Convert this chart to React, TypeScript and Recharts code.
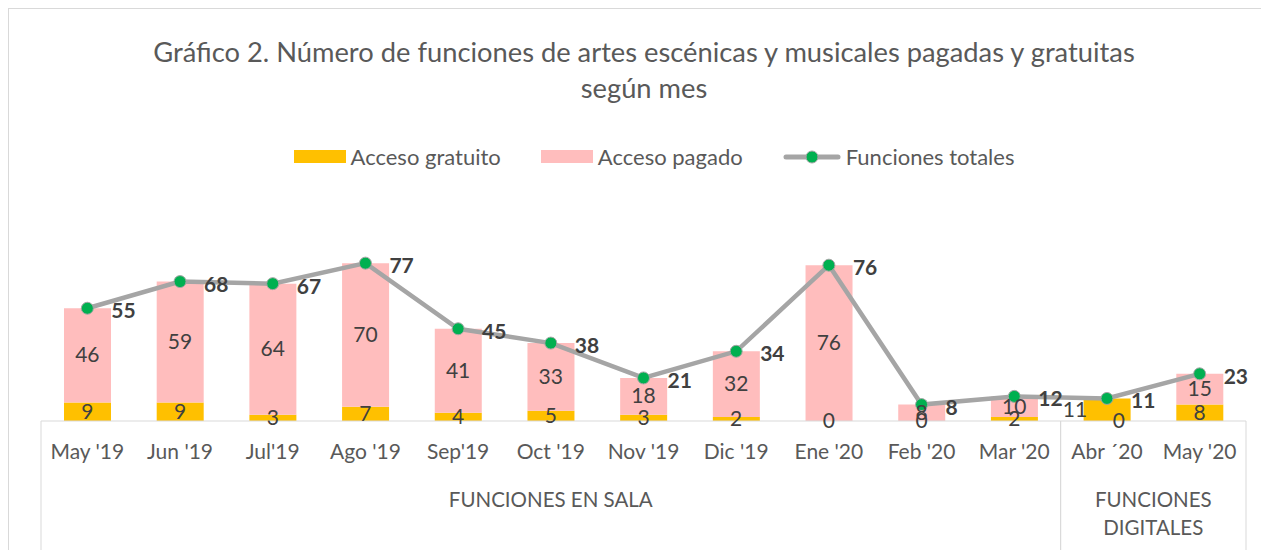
import React from "react";
import {
  ComposedChart,
  Bar,
  Line,
  XAxis,
  YAxis,
} from "recharts";

const months = [
  "May '19", "Jun '19", "Jul'19", "Ago '19", "Sep'19", "Oct '19", "Nov '19",
  "Dic '19", "Ene '20", "Feb '20", "Mar '20", "Abr ´20", "May '20",
];
const groups = [
  "FUNCIONES EN SALA", "FUNCIONES EN SALA", "FUNCIONES EN SALA", "FUNCIONES EN SALA",
  "FUNCIONES EN SALA", "FUNCIONES EN SALA", "FUNCIONES EN SALA", "FUNCIONES EN SALA",
  "FUNCIONES EN SALA", "FUNCIONES EN SALA", "FUNCIONES EN SALA",
  "FUNCIONES DIGITALES", "FUNCIONES DIGITALES",
];
const gratuito = [9, 9, 3, 7, 4, 5, 3, 2, 0, 0, 2, 11, 8];
const pagado = [46, 59, 64, 70, 41, 33, 18, 32, 76, 8, 10, 0, 15];
const totales = [55, 68, 67, 77, 45, 38, 21, 34, 76, 8, 12, 11, 23];

const TITLE = [
  "Gráfico 2. Número de funciones de artes escénicas y musicales pagadas y gratuitas",
  "según mes",
];

const FONT = "Lato, 'Noto Sans', sans-serif";
const W = 1260;
const H = 541;
const M = { top: 207, right: 23, bottom: 0, left: 32 };
const AXIS_Y = 412;
const BAND = (W - M.left - M.right) / months.length;

const data = months.map((m, i) => ({
  month: m,
  gratuito: gratuito[i],
  pagado: pagado[i],
  total: totales[i],
  gratuitoMid: gratuito[i] / 2,
  pagadoMid: gratuito[i] + pagado[i] / 2,
}));

const renderTick = (props: any) => {
  const { x, y, payload } = props;
  const i = payload.index;
  const g = groups[i];
  const first = i === 0 || groups[i - 1] !== g;
  const last = i === groups.length - 1 || groups[i + 1] !== g;
  let count = 0;
  if (first) {
    for (let j = i; j < groups.length && groups[j] === g; j++) count++;
  }
  const words = count < 3 ? g.split(" ") : [g];
  const cx = x - BAND / 2 + (count * BAND) / 2;
  return (
    <g>
      <text x={x} y={y + 38} textAnchor="middle" fill="#595959" fontSize={21} fontFamily={FONT}>
        {payload.value}
      </text>
      {first && (
        <line x1={x - BAND / 2} x2={x - BAND / 2} y1={y} y2={y + 140} stroke="#d9d9d9" />
      )}
      {last && (
        <line x1={x + BAND / 2} x2={x + BAND / 2} y1={y} y2={y + 140} stroke="#d9d9d9" />
      )}
      {first &&
        words.map((w, k) => (
          <text
            key={k}
            x={cx}
            y={y + 86 + k * 28}
            textAnchor="middle"
            fill="#595959"
            fontSize={20.5}
            fontFamily={FONT}
          >
            {w}
          </text>
        ))}
    </g>
  );
};

// an empty top segment sitting on a filled one gets pushed down to the axis
const makeSegLabel = (key: "gratuito" | "pagado") => (props: any) => {
  const { x, y, index } = props;
  const d = data[index];
  let lx = x;
  let ly = y + 7;
  if (key === "pagado" && d.pagado === 0 && d.gratuito > 0) {
    lx = x + 12;
    ly = AXIS_Y + 7;
  }
  if (key === "gratuito" && d.pagado === 0 && d.gratuito > 0) {
    lx = x - 32;
  }
  return (
    <text
      key={`${key}-${index}`}
      x={lx}
      y={ly}
      textAnchor="middle"
      fill="#404040"
      fontSize={21}
      fontFamily={FONT}
    >
      {d[key]}
    </text>
  );
};

const renderTotalLabel = (props: any) => {
  const { x, y, value, index } = props;
  return (
    <text key={`t-${index}`} x={x + 24} y={y + 10} fill="#404040" fontSize={21} fontWeight="bold" fontFamily={FONT}>
      {value}
    </text>
  );
};

const legendItems = [
  { name: "Acceso gratuito", color: "#ffc000", type: "bar" },
  { name: "Acceso pagado", color: "#ffbdbd", type: "bar" },
  { name: "Funciones totales", color: "#a5a5a5", type: "line" },
];

export default function App() {
  return (
    <div
      style={{
        position: "relative",
        width: 1260,
        height: 541,
        borderTop: "1px solid #d9d9d9",
        borderLeft: "1px solid #d9d9d9",
        fontFamily: FONT,
        background: "#fff",
      }}
    >
      <div
        style={{
          position: "absolute",
          left: 0,
          top: 25,
          width: 2 * 635,
          textAlign: "center",
          color: "#595959",
          fontSize: 27.3,
          lineHeight: "36px",
        }}
      >
        {TITLE.map((t) => (
          <div key={t}>{t}</div>
        ))}
      </div>
      <div
        style={{
          position: "absolute",
          left: 10,
          top: 134,
          width: 2 * 635,
          display: "flex",
          justifyContent: "center",
          alignItems: "center",
          gap: 40,
          color: "#595959",
          fontSize: 22,
        }}
      >
        {legendItems.map((it) => (
          <div key={it.name} style={{ display: "flex", alignItems: "center", gap: 5 }}>
            {it.type === "bar" ? (
              <span style={{ display: "inline-block", width: 52, height: 13, background: it.color }} />
            ) : (
              <svg width={58} height={16}>
                <line x1={3} x2={55} y1={8} y2={8} stroke={it.color} strokeWidth={5} strokeLinecap="round" />
                <circle cx={29} cy={8} r={6} fill="#00b050" stroke="#a5a5a5" />
              </svg>
            )}
            <span>{it.name}</span>
          </div>
        ))}
      </div>
      <ComposedChart width={W} height={H} data={data} margin={M} barCategoryGap={0}>
        <XAxis
          dataKey="month"
          interval={0}
          tickLine={false}
          tickSize={0}
          tickMargin={0}
          height={H - AXIS_Y}
          axisLine={{ stroke: "#d9d9d9" }}
          tick={renderTick}
        />
        <YAxis hide domain={[0, 100]} />
        <Bar dataKey="gratuito" stackId="a" fill="#ffc000" barSize={47} isAnimationActive={false} />
        <Bar dataKey="pagado" stackId="a" fill="#ffbdbd" barSize={47} isAnimationActive={false} />
        <Line
          dataKey="gratuitoMid"
          stroke="none"
          dot={false}
          activeDot={false}
          legendType="none"
          isAnimationActive={false}
          label={makeSegLabel("gratuito")}
        />
        <Line
          dataKey="pagadoMid"
          stroke="none"
          dot={false}
          activeDot={false}
          legendType="none"
          isAnimationActive={false}
          label={makeSegLabel("pagado")}
        />
        <Line
          dataKey="total"
          stroke="#a5a5a5"
          strokeWidth={4.5}
          dot={{ r: 6, fill: "#00b050", stroke: "#a5a5a5", strokeWidth: 1 }}
          isAnimationActive={false}
          label={renderTotalLabel}
        />
      </ComposedChart>
    </div>
  );
}
